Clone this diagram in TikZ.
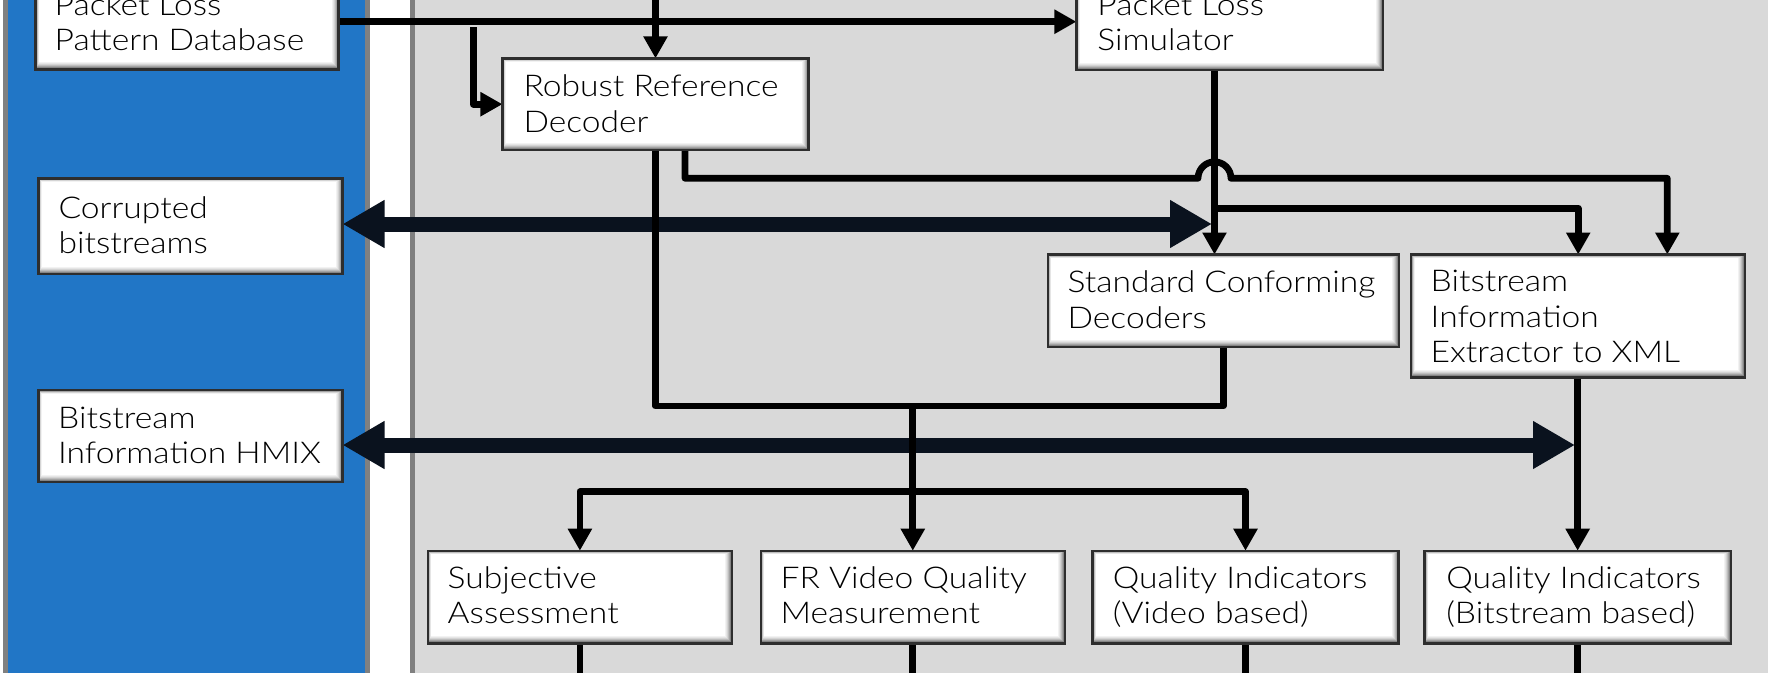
\documentclass[tikz,border=0pt]{standalone}
\usepackage{fontspec}
\IfFontExistsTF{Lato Light}{\setmainfont{Lato Light}[FakeStretch=1.12]}{\setmainfont{Lato}[FakeStretch=1.12]}
\usetikzlibrary{arrows.meta,calc}
\definecolor{panelblue}{HTML}{2176C6}
\definecolor{panelgray}{HTML}{D9D9D9}
\definecolor{rulegray}{HTML}{808080}
\definecolor{boxedge}{HTML}{2E2E2E}
\definecolor{busnavy}{HTML}{0A121E}
\pgfdeclarelayer{panels}
\pgfdeclarelayer{wires}
\pgfsetlayers{panels,wires,main}

\begin{document}
\begin{tikzpicture}[x=1pt,y=-1pt,
  box/.style={draw=boxedge, line width=2.4pt, fill=white, inner sep=0pt, outer sep=0pt,
    path picture={
      \foreach \i/\g in {0/62,1/48,2/36,3/26,4/17,5/10,6/5,7/0}{
        \fill[black!\g!white]
          ([xshift=0.5*\i pt, yshift=-0.5*\i pt]path picture bounding box.north west)
          rectangle ([xshift=-\i pt, yshift=\i pt]path picture bounding box.south east);
      }
    }},
  lbl/.style={anchor=base west, inner sep=0pt, outer sep=0pt,
    font=\fontsize{30}{35.5}\selectfont},
  wire/.style={draw=black, line width=6.7pt, line join=round},
  feed/.style={wire, -{Triangle[length=22pt,width=23pt]}},
  bus/.style={draw=busnavy, line width=15pt,
    {Triangle[length=42pt,width=45pt]}-{Triangle[length=42pt,width=45pt]}},
]
\useasboundingbox (0,0) rectangle (1768,672);

% ---------- boxes ----------
\node[box, minimum width=303pt,   minimum height=95.2pt] (pldb) at (187.1,21.7) {};
\node[box, minimum width=304.2pt, minimum height=95.7pt] (cb)   at (190.4,226.2) {};
\node[box, minimum width=304.2pt, minimum height=91.7pt] (hmix) at (190.4,435.9) {};
\node[box, minimum width=306.1pt, minimum height=91.7pt] (rrd)  at (655.5,104.2) {};
\node[box, minimum width=306.6pt, minimum height=96.6pt] (pls)  at (1229.7,21.7) {};
\node[box, minimum width=351.3pt, minimum height=92.2pt] (scd)  at (1223.4,300.6) {};
\node[box, minimum width=334pt,   minimum height=122.8pt] (bie) at (1578.2,315.9) {};
\node[box, minimum width=304.2pt, minimum height=92.6pt] (subj) at (579.9,597) {};
\node[box, minimum width=304.2pt, minimum height=92.6pt] (fr)   at (912.8,597) {};
\node[box, minimum width=306pt,   minimum height=92.6pt] (qiv)  at (1245.5,597) {};
\node[box, minimum width=306.1pt, minimum height=92.6pt] (qib)  at (1577.65,597) {};

% ---------- box texts ----------
\node[lbl] (pldb-t) at (54.7,15)    {\parbox[t]{300pt}{Packet Loss\\Pattern Database}};
\node[lbl] (cb-t)   at (58.5,218)   {\parbox[t]{300pt}{Corrupted\\bitstreams}};
\node[lbl] (hmix-t) at (58.2,428.3) {\parbox[t]{300pt}{Bitstream\\Information HMIX}};
\node[lbl] (rrd-t)  at (523.5,96.7) {\parbox[t]{300pt}{Robust Reference\\Decoder}};
\node[lbl] (pls-t)  at (1097.4,15)  {\parbox[t]{300pt}{Packet Loss\\Simulator}};
\node[lbl] (scd-t)  at (1067.6,292.7) {\parbox[t]{340pt}{Standard Conforming\\Decoders}};
\node[lbl] (bie-t)  at (1430.7,291.7) {\parbox[t]{320pt}{Bitstream\\Information\\Extractor to XML}};
\node[lbl] (subj-t) at (447.7,588.3) {\parbox[t]{300pt}{Subjective\\Assessment}};
\node[lbl] (fr-t)   at (780.6,588.3) {\parbox[t]{300pt}{FR Video Quality\\Measurement}};
\node[lbl] (qiv-t)  at (1112.8,588.3) {\parbox[t]{300pt}{Quality Indicators\\(Video based)}};
\node[lbl] (qib-t)  at (1446.3,588.3) {\parbox[t]{300pt}{Quality Indicators\\(Bitstream based)}};

% ---------- panels ----------
\begin{pgfonlayer}{panels}
  \fill[white] (0,-10) rectangle (1778,690);
  \fill[panelblue] (5,-10) rectangle (367.5,690);
  \draw[rulegray, line width=5pt] (5,-10) -- (5,690);
  \draw[rulegray, line width=5pt] (367.5,-10) -- (367.5,690);
  \fill[panelgray] (412,-10) rectangle (1778,690);
  \draw[rulegray, line width=5pt] (412,-10) -- (412,690);
\end{pgfonlayer}

% ---------- connectors ----------
\begin{pgfonlayer}{wires}
  % wide exchange buses to the storage column
  \coordinate (busA) at (1212,224);
  \coordinate (busB) at (1575,445);
  \draw[bus] (cb.east |- busA) -- (busA);
  \draw[bus] (hmix.east |- busB) -- (busB);

  % loss patterns to the simulator
  \draw[feed] (pldb.east) -- (pldb.east -| pls.west);
  % incoming stream to the robust decoder
  \coordinate (feedin) at (655.5,-10);
  \draw[feed] (feedin) -- (rrd.north);
  \coordinate (tap) at (473.3,27);
  \draw[feed] (tap) |- (rrd.west);

  % decoded outputs merged towards the quality tools
  \coordinate (vjoin) at (fr.north |- 0,406);
  \coordinate (qjoin) at (fr.north |- 0,491.7);
  \draw[wire] (rrd.south) |- (vjoin);
  \draw[wire] (scd.south) |- (vjoin);
  \draw[feed] (vjoin) -- (fr.north);
  \draw[feed] (qjoin) -| (subj.north);
  \draw[feed] (qjoin) -| (qiv.north);

  % simulator outputs
  \coordinate (plsout) at ([xshift=-15.2pt]pls.south);
  \draw[feed] (plsout) -- (plsout |- scd.north);
  \coordinate (plssplit) at (plsout |- 0,208.3);
  \draw[feed] (plssplit) -| (bie.north);

  % robust decoder side output, hopping over the simulator line
  \coordinate (rrdout) at ([xshift=29.5pt]rrd.south);
  \coordinate (hopL) at ([xshift=-16.5pt]plsout |- 0,178.3);
  \coordinate (hopT) at (plsout |- 0,161.8);
  \coordinate (hopR) at ([xshift=16.5pt]plsout |- 0,178.3);
  \draw[feed, line cap=round] (rrdout) |- (hopL)
     .. controls +(0,-9.1) and +(-9.1,0) .. (hopT)
     .. controls +(9.1,0) and +(0,-9.1) .. (hopR)
     -| ([xshift=89.1pt]bie.north);

  % extractor to bitstream-based indicators
  \draw[feed] (bie.south -| qib.north) -- (qib.north);

  % result stems leaving downwards
  \foreach \n in {subj,fr,qiv,qib}
    \draw[wire] (\n.south) -- (\n.south |- 0,690);
\end{pgfonlayer}
\end{tikzpicture}
\end{document}
